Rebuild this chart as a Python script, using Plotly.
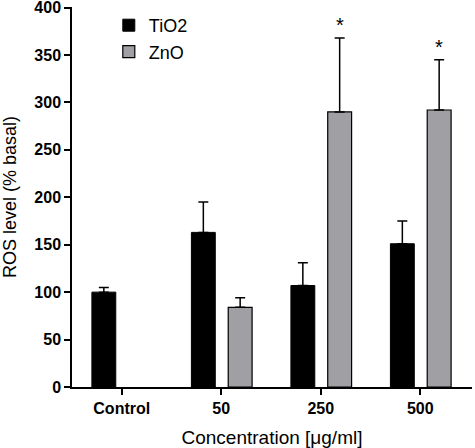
import plotly.graph_objects as go

categories = ["Control", "50", "250", "500"]
tio2_values = [100, 163, 107, 151]
tio2_errors = [5, 32, 24, 24]
zno_values = [None, 84, 290, 292]
zno_errors = [0, 10, 78, 53]
significant_zno = [False, False, True, True]
y_ticks = [0, 50, 100, 150, 200, 250, 300, 350, 400]

fig = go.Figure()
fig.add_trace(go.Bar(
    name="TiO2", x=categories, y=tio2_values,
    marker=dict(color="#000000", line=dict(color="#000000", width=1)),
    width=0.24, offset=-0.30,
    error_y=dict(type="data", array=tio2_errors, arrayminus=[0]*4, symmetric=False,
                 color="#000000", thickness=1.5, width=5),
))
fig.add_trace(go.Bar(
    name="ZnO", x=categories, y=zno_values,
    marker=dict(color="#a0a0a4", line=dict(color="#000000", width=1.2)),
    width=0.24, offset=0.07,
    error_y=dict(type="data", array=zno_errors, arrayminus=[0]*4, symmetric=False,
                 color="#000000", thickness=1.5, width=5),
))

for i, (sig, v, e) in enumerate(zip(significant_zno, zno_values, zno_errors)):
    if sig:
        fig.add_annotation(x=i + 0.19, y=v + e, text="*", showarrow=False,
                           yshift=13, font=dict(size=20, color="#000000",
                                                family="Liberation Sans, Arial"))

fig.update_layout(
    width=475, height=448,
    margin=dict(l=72, r=3, t=7, b=61),
    plot_bgcolor="white", paper_bgcolor="white",
    font=dict(family="Liberation Sans, Arial", color="#000000"),
    showlegend=True,
    legend=dict(x=0.092, y=1.0, xanchor="left", yanchor="top",
                font=dict(size=18), bgcolor="rgba(0,0,0,0)", itemwidth=30),
)
fig.update_xaxes(
    type="category", range=[-0.5, 3.52], automargin=False,
    showline=True, linecolor="#000000", linewidth=1.5,
    ticks="outside", ticklen=6, tickwidth=1.5, tickcolor="#000000",
    tickfont=dict(size=16, family="Liberation Sans, Arial"),
    ticktext=["<b>" + c + "</b>" for c in categories], tickvals=categories,
    title=dict(text="Concentration [μg/ml]", font=dict(size=19)),
    showgrid=False, zeroline=False,
)
fig.update_yaxes(
    range=[0, 400.6], tickmode="array", tickvals=y_ticks, automargin=False,
    ticklabeloverflow="allow",
    showline=True, linecolor="#000000", linewidth=1.5,
    ticks="outside", ticklen=6, tickwidth=1.5, tickcolor="#000000",
    tickfont=dict(size=16, family="Liberation Sans, Arial", weight="bold"),
    title=dict(text="ROS level (% basal)", font=dict(size=18)),
    showgrid=False, zeroline=False,
)

fig.write_html("out.html", config={"displayModeBar": False},
               post_script="document.body.style.margin='0';")
